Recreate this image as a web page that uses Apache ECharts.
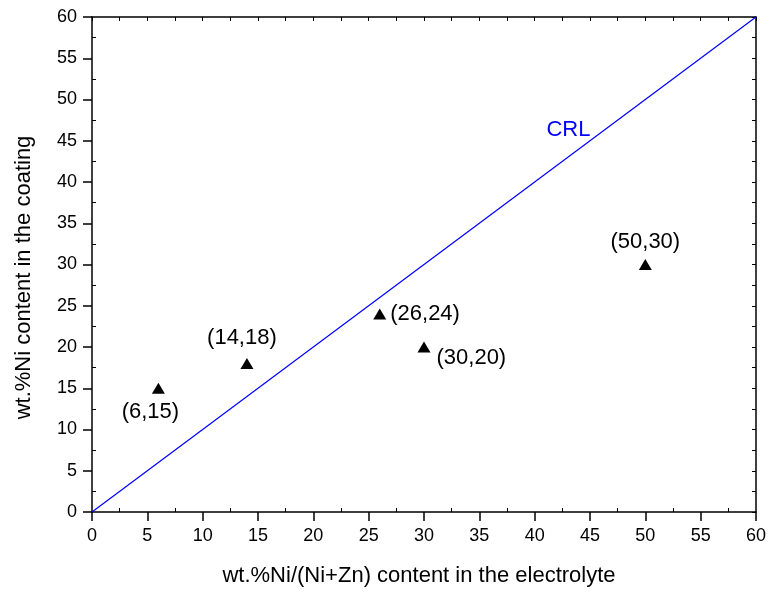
<!DOCTYPE html>
<html>
<head>
<meta charset="utf-8">
<script src="https://cdn.jsdelivr.net/npm/echarts@6/dist/echarts.min.js"></script>
<style>
  html, body { margin: 0; padding: 0; background: #fff; }
  #chart { width: 769px; height: 592px; }
</style>
</head>
<body>
<div id="chart"></div>
<script>
// 电解液中Ni含量 vs 镀层中Ni含量
var xNi = [6, 14, 26, 30, 50];
var yNi = [15, 18, 24, 20, 30];
var labelPos = ['bottom', 'top', 'right', 'right', 'top'];
var labelOffset = [[-8, 2], [-5, -4], [-1, 0], [1, 11], [0, -1]];
// CRL 参考线 (y = x)
var crlX = [0, 60];
var crlY = [0, 60];
var minorTicks = [2.5, 7.5, 12.5, 17.5, 22.5, 27.5, 32.5, 37.5, 42.5, 47.5, 52.5, 57.5];

var font = 'Liberation Sans, Arial, sans-serif';

var points = xNi.map(function (x, i) {
    return {
        value: [x, yNi[i]],
        label: { position: labelPos[i], offset: labelOffset[i] }
    };
});

//上/右边框，刻度朝内
function overlayAxis(pos) {
    return {
        type: 'value', position: pos, min: 0, max: 60, interval: 2.5,
        axisLine: { show: true, onZero: false, lineStyle: { color: '#000', width: 1.5 } },
        axisLabel: { show: false },
        splitLine: { show: false },
        axisTick: { show: true, inside: true, length: 4, lineStyle: { color: '#000', width: 1 } }
    };
}
//下/左的次刻度，朝内
function minorAxis(pos) {
    return {
        type: 'value', position: pos, min: 0, max: 60,
        axisLine: { show: false },
        axisLabel: { show: false },
        splitLine: { show: false },
        axisTick: { show: true, inside: true, length: 4, customValues: minorTicks, lineStyle: { color: '#000', width: 1 } }
    };
}

var myChart = echarts.init(document.getElementById('chart'));
var option = {
    animation: false,
    backgroundColor: '#fff',
    grid: { left: 92, right: 12, top: 17, bottom: 80 },
    xAxis: [
        {
            type: 'value', min: 0, max: 60, interval: 5,
            name: 'wt.%Ni/(Ni+Zn) content in the electrolyte',
            nameLocation: 'middle', nameGap: 53,
            nameTextStyle: { fontFamily: font, fontSize: 22, color: '#000', padding: [0, 10, 0, 0] },
            axisLine: { onZero: false, lineStyle: { color: '#000', width: 1.5 } },
            axisTick: { inside: false, length: 9, lineStyle: { color: '#000', width: 1.5 } },
            axisLabel: { fontFamily: font, fontSize: 18, color: '#000', margin: 15 },
            splitLine: { show: false }
        },
        overlayAxis('top'),
        minorAxis('bottom')
    ],
    yAxis: [
        {
            type: 'value', min: 0, max: 60, interval: 5,
            name: 'wt.%Ni content in the coating',
            nameLocation: 'middle', nameGap: 57,
            nameTextStyle: { fontFamily: font, fontSize: 22, color: '#000', padding: [0, 26, 0, 0] },
            axisLine: { onZero: false, lineStyle: { color: '#000', width: 1.5 } },
            axisTick: { inside: false, length: 9, lineStyle: { color: '#000', width: 1.5 } },
            axisLabel: { fontFamily: font, fontSize: 18, color: '#000', margin: 15 },
            splitLine: { show: false }
        },
        overlayAxis('right'),
        minorAxis('left')
    ],
    series: [
        {
            name: 'CRL', type: 'line',
            data: crlX.map(function (x, i) { return [x, crlY[i]]; }),
            symbol: 'none',
            lineStyle: { color: '#0000ff', width: 1.2 },
            markPoint: {
                symbol: 'circle',
                symbolSize: 1,
                itemStyle: { color: 'rgba(0,0,0,0)' },
                data: [{ coord: [43.05, 46.3] }],
                label: { show: true, position: 'inside', formatter: 'CRL', color: '#0000ff', fontFamily: font, fontSize: 22 }
            },
            z: 2
        },
        {
            name: 'data', type: 'scatter',
            data: points,
            symbol: 'triangle',
            symbolSize: [13, 11],
            itemStyle: { color: '#000', opacity: 1 },
            label: {
                show: true,
                fontFamily: font, fontSize: 22, color: '#000',
                formatter: function (p) { return '(' + p.value[0] + ',' + p.value[1] + ')'; }
            },
            z: 3
        }
    ]
};
myChart.setOption(option);
</script>
</body>
</html>
